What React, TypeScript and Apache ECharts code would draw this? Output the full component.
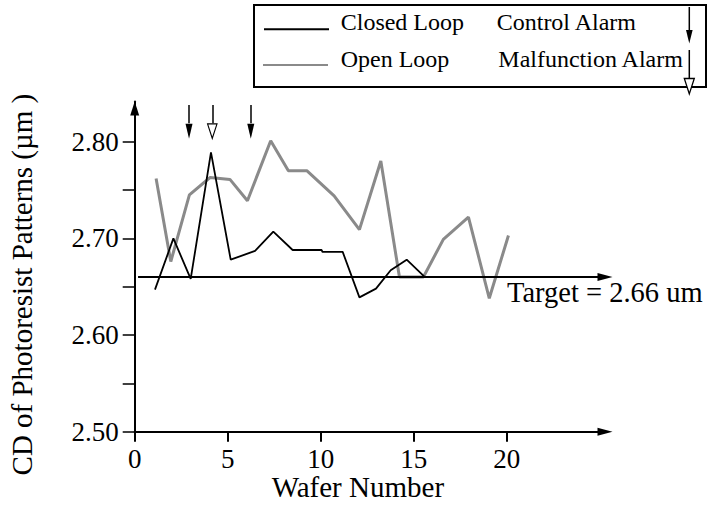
import React, { useEffect, useRef } from "react";
import * as echarts from "echarts";

// ---- data ----
const closedLoopWafer = [1.09, 2.08, 3.01, 4.1, 5.16, 6.47, 7.45, 8.49, 10.05, 10.09, 11.18, 12.08, 12.97, 13.76, 14.62, 15.6];
const closedLoopCD = [2.647, 2.7, 2.658, 2.789, 2.678, 2.687, 2.707, 2.688, 2.688, 2.686, 2.686, 2.639, 2.648, 2.667, 2.678, 2.66];

const openLoopWafer = [1.15, 1.94, 2.94, 4.05, 5.12, 6.06, 7.31, 8.26, 9.25, 10.72, 12.08, 13.23, 14.23, 15.52, 16.59, 17.94, 19.06, 20.09];
const openLoopCD = [2.762, 2.676, 2.745, 2.763, 2.761, 2.739, 2.801, 2.77, 2.77, 2.744, 2.709, 2.78, 2.66, 2.66, 2.699, 2.722, 2.638, 2.703];

const xTickLabels = [0, 5, 10, 15, 20];
const yTickLabels = [2.5, 2.6, 2.7, 2.8];
const yTicks = [2.5, 2.55, 2.6, 2.65, 2.7, 2.75, 2.8];

const targetCD = 2.66;
const controlAlarmWafers = [2.92, 6.24];
const malfunctionAlarmWafers = [4.17];

const FONT = "Liberation Serif";
const GREY = "#8a8a8a";

// annotation heights (in CD units)
const ALARM_TOP = 2.838;
const ALARM_HEAD_TOP = 2.819;
const ALARM_HEAD_CENTER = 2.8108;

const X_MAX = 25.28;
const Y_MAX = 2.8415;

const HOLLOW_DOWN = "path://M0,0L10,0L5,10ZM1.4,0.8L5,7.8L8.6,0.8Z";

export default function App() {
  const ref = useRef<HTMLDivElement>(null);

  useEffect(() => {
    if (!ref.current) return;
    const chart = echarts.init(ref.current, null, { renderer: "svg" });

    const closedData = closedLoopWafer.map((w, i) => [w, closedLoopCD[i]]);
    const openData = openLoopWafer.map((w, i) => [w, openLoopCD[i]]);

    const axisLineStyle = { color: "#000", width: 2 };

    chart.setOption({
      animation: false,
      textStyle: { fontFamily: FONT, color: "#000" },
      grid: { left: 134.7, right: 104, top: 101.6, bottom: 73.3, containLabel: false, outerBoundsMode: "none" },
      xAxis: {
        type: "value",
        min: 0,
        max: X_MAX,
        axisLine: {
          show: true,
          lineStyle: axisLineStyle,
          symbol: ["none", "triangle"],
          symbolSize: [8, 15],
        },
        axisTick: {
          show: true,
          length: 10,
          lineStyle: { color: "#000", width: 2 },
          customValues: xTickLabels,
        },
        axisLabel: {
          customValues: xTickLabels,
          fontSize: 27,
          fontFamily: FONT,
          color: "#000",
          margin: 14,
        },
        splitLine: { show: false },
        name: "Wafer Number",
        nameLocation: "middle",
        nameGap: 41,
        nameMoveOverlap: false,
        nameTextStyle: { fontSize: 29, fontFamily: FONT, color: "#000", padding: [0, 24, 0, 0] },
      },
      yAxis: {
        type: "value",
        min: 2.5,
        max: Y_MAX,
        axisLine: {
          show: true,
          lineStyle: axisLineStyle,
          symbol: ["none", "triangle"],
          symbolSize: [9, 14],
          symbolOffset: [0, -7],
        },
        axisTick: {
          show: true,
          length: 12,
          lineStyle: { color: "#000", width: 1.5 },
          customValues: yTicks,
        },
        axisLabel: {
          customValues: yTickLabels,
          formatter: (v: number) => v.toFixed(2),
          fontSize: 27,
          fontFamily: FONT,
          color: "#000",
          margin: 16,
        },
        splitLine: { show: false },
        name: "CD of Photoresist Patterns (\u00b5m )",
        nameLocation: "middle",
        nameGap: 98,
        nameMoveOverlap: false,
        nameRotate: 90,
        nameTextStyle: { fontSize: 29, fontFamily: FONT, color: "#000", padding: [0, 36, 0, 0] },
      },
      series: [
        {
          name: "Open Loop",
          type: "line",
          data: openData,
          showSymbol: false,
          symbol: "none",
          lineStyle: { color: GREY, width: 3 },
          z: 2,
          silent: true,
          markLine: {
            silent: true,
            symbol: ["none", "none"],
            label: { show: false },
            lineStyle: { color: "#000", width: 1.5, type: "solid" },
            data: malfunctionAlarmWafers.map((w) => [
              { coord: [w, ALARM_TOP] },
              { coord: [w, ALARM_HEAD_TOP] },
            ]),
          },
          markPoint: {
            silent: true,
            symbol: HOLLOW_DOWN,
            symbolSize: [11, 17],
            itemStyle: { color: "#000" },
            label: { show: false },
            data: malfunctionAlarmWafers.map((w) => ({ coord: [w, ALARM_HEAD_CENTER - 0.0005] })),
          },
        },
        {
          name: "Closed Loop",
          type: "line",
          data: closedData,
          showSymbol: false,
          symbol: "none",
          lineStyle: { color: "#000", width: 1.8 },
          z: 3,
          silent: true,
          markLine: {
            silent: true,
            symbol: ["none", "none"],
            label: { show: false },
            lineStyle: { color: "#000", width: 1.5, type: "solid" },
            data: [
              [
                { coord: [0.18, targetCD], symbol: "none", lineStyle: { width: 2 } },
                { coord: [X_MAX, targetCD], symbol: "triangle", symbolSize: [8, 15] },
              ],
              ...controlAlarmWafers.map((w) => [
                { coord: [w, ALARM_TOP] },
                { coord: [w, ALARM_HEAD_TOP] },
              ]),
            ],
          },
          markPoint: {
            silent: true,
            symbol: "triangle",
            symbolRotate: 180,
            symbolSize: [7, 15],
            itemStyle: { color: "#000" },
            label: { show: false },
            data: controlAlarmWafers.map((w) => ({ coord: [w, ALARM_HEAD_CENTER] })),
          },
        },
      ],
      graphic: [
        {
          type: "text",
          x: 507,
          y: 292,
          style: {
            text: "Target = " + targetCD.toFixed(2) + " um",
            fontSize: 28.5,
            fontFamily: FONT,
            fill: "#000",
            textVerticalAlign: "middle",
          },
        },
        // legend box
        {
          type: "rect",
          shape: { x: 254, y: 5, width: 452, height: 82 },
          style: { fill: "none", stroke: "#000", lineWidth: 2 },
        },
        {
          type: "line",
          shape: { x1: 264, y1: 29.3, x2: 329, y2: 29.3 },
          style: { stroke: "#000", lineWidth: 2 },
        },
        {
          type: "line",
          shape: { x1: 263, y1: 65, x2: 328, y2: 65 },
          style: { stroke: GREY, lineWidth: 2 },
        },
        {
          type: "text",
          x: 340.7,
          y: 21.5,
          style: { text: "Closed Loop", fontSize: 24, fontFamily: FONT, fill: "#000", textVerticalAlign: "middle" },
        },
        {
          type: "text",
          x: 340.7,
          y: 58.8,
          style: { text: "Open Loop", fontSize: 24, fontFamily: FONT, fill: "#000", textVerticalAlign: "middle" },
        },
        {
          type: "text",
          x: 496.7,
          y: 21.5,
          style: { text: "Control Alarm", fontSize: 24, fontFamily: FONT, fill: "#000", textVerticalAlign: "middle" },
        },
        {
          type: "text",
          x: 498.3,
          y: 58.8,
          style: { text: "Malfunction Alarm", fontSize: 24, fontFamily: FONT, fill: "#000", textVerticalAlign: "middle" },
        },
        // legend arrows
        {
          type: "line",
          shape: { x1: 689.3, y1: 7, x2: 689.3, y2: 31 },
          style: { stroke: "#000", lineWidth: 1.5 },
        },
        {
          type: "polygon",
          shape: { points: [[686, 30], [692.6, 30], [689.3, 43.5]] },
          style: { fill: "#000" },
        },
        {
          type: "line",
          shape: { x1: 689.3, y1: 50, x2: 689.3, y2: 78 },
          style: { stroke: "#000", lineWidth: 1.5 },
        },
        {
          type: "polygon",
          shape: { points: [[684.3, 78.5], [694.3, 78.5], [689.3, 94]] },
          style: { fill: "#fff", stroke: "#000", lineWidth: 1.3 },
        },
      ],
    });

    return () => chart.dispose();
  }, []);

  return (
    <div
      ref={ref}
      style={{ position: "fixed", left: 0, top: 0, width: 709, height: 505, background: "#fff" }}
    />
  );
}
